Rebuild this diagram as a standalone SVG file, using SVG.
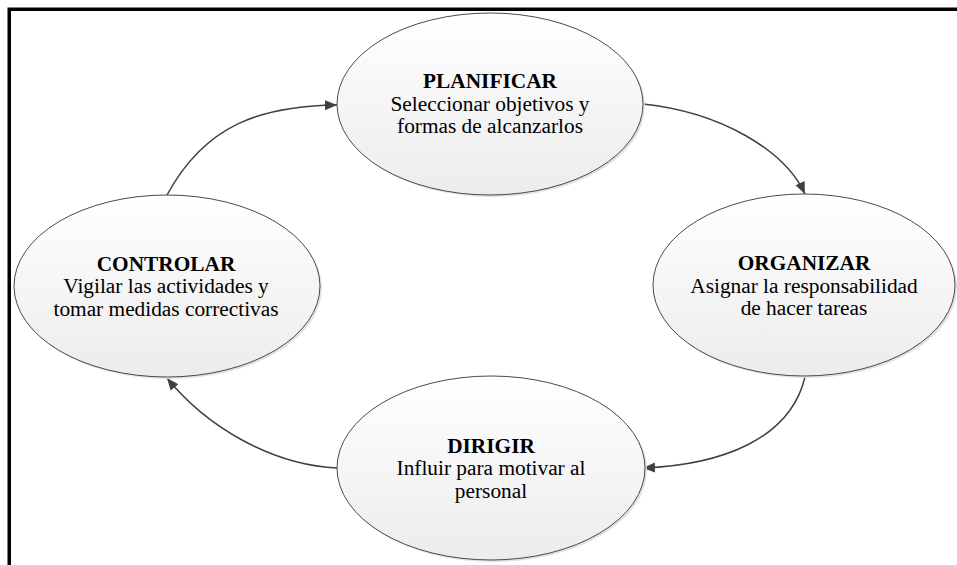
<svg xmlns="http://www.w3.org/2000/svg" width="957" height="565" viewBox="0 0 957 565">
<style>
.node ellipse.shape{fill:url(#g);stroke:#4a4a4a;stroke-width:1}
.node ellipse.shadow{fill:#e2e2e2}
text{font-family:'Liberation Serif','DejaVu Serif',serif;font-size:21.33px;fill:#000;text-anchor:middle}
.b{font-weight:bold}
.conn path{fill:none;stroke:#404040;stroke-width:1.5;marker-end:url(#arr)}
.frame{stroke:#000;stroke-width:3.5;fill:none}
</style>
<defs>
<linearGradient id="g" x1="0" y1="0" x2="0" y2="1">
<stop offset="0" stop-color="#ffffff"/>
<stop offset="1" stop-color="#ececec"/>
</linearGradient>
<marker id="arr" markerUnits="userSpaceOnUse" markerWidth="14" markerHeight="12" refX="12" refY="5" orient="auto" viewBox="0 0 14 10">
<path d="M0,0 L12,5 L0,10 Z" fill="#404040"/>
</marker>
</defs>
<rect width="957" height="565" fill="#fff"/>
<path class="frame" d="M9.25,565 V9.25 H957"/>
<g class="conn">
<path d="M167,195 C205,125 260,106 337,105"/>
<path d="M643,104 C720,112 785,150 805,194"/>
<path d="M805,377 C790,440 720,465 643,468"/>
<path d="M337,468 C270,465 205,425 167,378"/>
</g>
<g id="planificar" class="node">
<ellipse class="shadow" cx="492" cy="106" rx="153" ry="91"/>
<ellipse class="shape" cx="490" cy="104" rx="153" ry="91"/>
<text class="b" x="490" y="88" font-family="Liberation Serif">PLANIFICAR</text>
<text x="490" y="110.5" font-family="Liberation Serif">Seleccionar objetivos y</text>
<text x="490" y="133" font-family="Liberation Serif">formas de alcanzarlos</text>
</g>
<g id="organizar" class="node">
<ellipse class="shadow" cx="806" cy="287" rx="151" ry="91"/>
<ellipse class="shape" cx="804" cy="285" rx="151" ry="91"/>
<text class="b" x="804" y="270" font-family="Liberation Serif">ORGANIZAR</text>
<text x="804" y="292.5" font-family="Liberation Serif">Asignar la responsabilidad</text>
<text x="804" y="315" font-family="Liberation Serif">de hacer tareas</text>
</g>
<g id="dirigir" class="node">
<ellipse class="shadow" cx="493" cy="470" rx="154" ry="92"/>
<ellipse class="shape" cx="491" cy="468" rx="154" ry="92"/>
<text class="b" x="491" y="452.5" font-family="Liberation Serif">DIRIGIR</text>
<text x="491" y="475" font-family="Liberation Serif">Influir para motivar al</text>
<text x="491" y="497.5" font-family="Liberation Serif">personal</text>
</g>
<g id="controlar" class="node">
<ellipse class="shadow" cx="169" cy="288" rx="153" ry="91"/>
<ellipse class="shape" cx="167" cy="286" rx="153" ry="91"/>
<text class="b" x="166" y="270.5" font-family="Liberation Serif">CONTROLAR</text>
<text x="166" y="293" font-family="Liberation Serif">Vigilar las actividades y</text>
<text x="166" y="315.5" font-family="Liberation Serif">tomar medidas correctivas</text>
</g>
</svg>
